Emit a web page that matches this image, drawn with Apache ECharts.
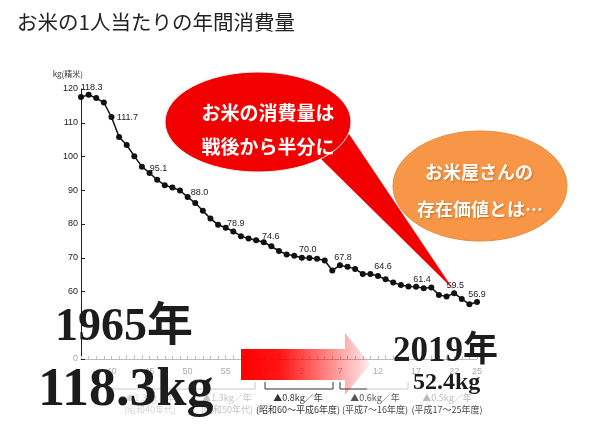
<!DOCTYPE html>
<html><head><meta charset="utf-8">
<script src="https://cdn.jsdelivr.net/npm/echarts@6.0.0/dist/echarts.min.js"></script>
<style>html,body{margin:0;padding:0;background:#fff}#c{width:600px;height:429px}</style>
</head><body><div id="c"></div>
<script>
// ---- data ----
const years = [1961,1962,1963,1964,1965,1966,1967,1968,1969,1970,1971,1972,1973,1974,1975,1976,1977,1978,1979,1980,1981,1982,1983,1984,1985,1986,1987,1988,1989,1990,1991,1992,1993,1994,1995,1996,1997,1998,1999,2000,2001,2002,2003,2004,2005,2006,2007,2008,2009,2010,2011,2012,2013];
const consumption = [117.6,118.3,117.3,116.0,111.7,105.8,103.4,100.1,97.0,95.1,93.1,91.5,90.8,89.9,88.0,86.2,83.9,81.6,79.8,78.9,77.8,76.4,75.7,75.2,74.6,73.4,72.0,71.0,70.6,70.0,69.9,69.7,69.2,66.2,67.8,67.3,66.7,65.2,65.2,64.6,63.6,62.7,61.9,61.5,61.4,61.0,61.2,59.0,58.5,59.5,57.8,56.2,56.9];
const xTickYears = [1965,1970,1975,1980,1985,1990,1995,2000,2005,2010,2013];
const xTickLabels = ['40','45','50','55','60','2','7','12','17','22','25'];
const labeledYears = [1962,1965,1970,1975,1980,1985,1990,1995,2000,2005,2010,2013];
const yTickValues = [40,60,70,80,90,100,110,120];
const yTickLabels = ['0','60','70','80','90','100','110','120'];
const titleText = 'お米の1人当たりの年間消費量';
const bubble1 = ['お米の消費量は','戦後から半分に'];
const bubble2 = ['お米屋さんの','存在価値とは…'];
const bigFrom = ['1965年','118.3kg'];
const bigTo = ['2019年','52.4kg'];
const rateTexts = [
  ['▲2.3kg／年','(昭和40年代)'],
  ['▲1.3kg／年','(昭和50年代)'],
  ['▲0.8kg／年','(昭和60～平成6年度)'],
  ['▲0.6kg／年','(平成7～16年度)'],
  ['▲0.5kg／年','(平成17～25年度)']
];

// ---- build ----
const chart = echarts.init(document.getElementById('c'), null, {renderer:'canvas'});
const SANS = "'Liberation Sans','Noto Sans CJK JP',sans-serif";
const CJK = "'Noto Sans CJK JP',sans-serif";
const SERIF = "'Liberation Serif','Noto Sans CJK JP',serif";
const SYM = 6;

// label centre offsets from the point (px)
const labelShift = {1962:[3,-7],1965:[16,1],1970:[9,-5],1975:[12,-4],1980:[10,-4.5],1985:[7,-6],1990:[6,-8.5],1995:[3,-8],2000:[5,-9],2005:[6,-7.5],2010:[1,-7.7],2013:[0,-7.5]};

const seriesData = consumption.map((v,i)=>{
  const y = years[i];
  if (labeledYears.indexOf(y) >= 0) {
    const s = labelShift[y];
    return {value:v, label:{show:true, position:[s[0]+SYM/2, s[1]+SYM/2], align:'center', verticalAlign:'middle',
      formatter:(p)=>p.value.toFixed(1), fontSize:9, color:'#222', fontFamily:SANS}};
  }
  return v;
});

const rateCenters = [150, 227, 298, 375, 447];
const rateColors = [['#d6d6d6','#d6d6d6'],['#c4c4c4','#c4c4c4'],['#333','#333'],['#555','#444'],['#bbb','#444']];
const rateGraphics = [];
rateTexts.forEach((t,i)=>{
  rateGraphics.push({type:'text', z:90, style:{text:t[0], x:rateCenters[i], y:398, textAlign:'center', textVerticalAlign:'middle', fontSize:9, fontFamily:CJK, fill:rateColors[i][0]}});
  rateGraphics.push({type:'text', z:90, style:{text:t[1], x:rateCenters[i], y:410, textAlign:'center', textVerticalAlign:'middle', fontSize:9, fontFamily:CJK, fill:rateColors[i][1]}});
});

const option = {
  animation:false,
  backgroundColor:'#fff',
  grid:{left:81, right:123, top:89, bottom:70},
  xAxis:{
    type:'category', data:years.map(String), boundaryGap:false,
    axisLine:{lineStyle:{color:'#bbb', width:1}},
    axisTick:{show:true, inside:true, length:3, interval:0, lineStyle:{color:'#bbb'}},
    axisLabel:{
      interval:(idx, val)=> xTickYears.indexOf(+val) >= 0,
      formatter:(val)=> { const k = xTickYears.indexOf(+val); return k>=0 ? xTickLabels[k] : ''; },
      fontSize:9, color:'#aaa', fontFamily:SANS, margin:8
    },
    splitLine:{show:false}
  },
  yAxis:{
    type:'value', min:40, max:120, interval:10,
    name:'kg(精米)', nameLocation:'end', nameGap:11,
    nameTextStyle:{fontSize:8, color:'#333', fontFamily:CJK, align:'right', padding:[0,-2,0,0]},
    axisLine:{show:true, lineStyle:{color:'#222', width:1}},
    axisTick:{show:true, inside:true, length:4, lineStyle:{color:'#222'}},
    axisLabel:{
      formatter:(v)=>{ const k = yTickValues.indexOf(v); return k>=0 ? yTickLabels[k] : ''; },
      color:(v)=> (+v===40 ? '#aaa' : '#222'),
      fontSize:9, fontFamily:SANS, margin:3
    },
    splitLine:{show:false}
  },
  series:[{
    type:'line', data:seriesData, z:5,
    symbol:'circle', symbolSize:SYM, showAllSymbol:true,
    lineStyle:{color:'#111', width:1.5},
    itemStyle:{color:'#111'},
    labelLayout:{hideOverlap:false},
    label:{show:false}
  }],
  graphic:[
    {type:'text', z:120, style:{text:titleText, x:17, y:22, textAlign:'left', textVerticalAlign:'middle', fontSize:20.5, fontFamily:CJK, fill:'#222'}},
    {type:'polygon', z:100, shape:{points:[[320,158],[330,150],[349,134],[453,289]]}, style:{fill:'#f20000'}},
    {type:'ellipse', z:101, shape:{cx:258, cy:122, rx:93, ry:50}, style:{fill:'#f20000', stroke:'#e6f4f4', lineWidth:1}},
    {type:'text', z:110, style:{text:bubble1[0], x:268, y:113, textAlign:'center', textVerticalAlign:'middle', fontSize:19, fontWeight:'bold', fontFamily:CJK, fill:'#fff'}},
    {type:'text', z:110, style:{text:bubble1[1], x:268, y:147, textAlign:'center', textVerticalAlign:'middle', fontSize:19, fontWeight:'bold', fontFamily:CJK, fill:'#fff'}},
    {type:'ellipse', z:100, shape:{cx:480, cy:186, rx:87, ry:55}, style:{fill:'#f79646', stroke:'#ec8a3a', lineWidth:1}},
    {type:'text', z:110, style:{text:bubble2[0], x:479, y:172, textAlign:'center', textVerticalAlign:'middle', fontSize:18, fontWeight:'bold', fontFamily:CJK, fill:'#fff', textShadowColor:'rgba(150,70,0,0.5)', textShadowBlur:2, textShadowOffsetX:1, textShadowOffsetY:1}},
    {type:'text', z:110, style:{text:bubble2[1], x:480, y:209, textAlign:'center', textVerticalAlign:'middle', fontSize:18, fontWeight:'bold', fontFamily:CJK, fill:'#fff', textShadowColor:'rgba(150,70,0,0.5)', textShadowBlur:2, textShadowOffsetX:1, textShadowOffsetY:1}},
    {type:'polyline', z:90, shape:{points:[[112,389],[255,389],[255,382]]}, style:{stroke:'#c8c8c8', lineWidth:1, fill:null}},
    {type:'polyline', z:90, shape:{points:[[265,382],[265,389],[333,389],[333,382]]}, style:{stroke:'#333', lineWidth:1, fill:null}},
    {type:'polyline', z:90, shape:{points:[[340,382],[340,389],[367,389]]}, style:{stroke:'#333', lineWidth:1, fill:null}},
    {type:'polyline', z:90, shape:{points:[[367,389],[408,389],[408,382]]}, style:{stroke:'#c8c8c8', lineWidth:1, fill:null}},
    ...rateGraphics,
    {type:'polygon', z:105, shape:{points:[[241,349],[345,349],[345,333],[370,364],[345,395],[345,380],[241,380]]},
      style:{fill:new echarts.graphic.LinearGradient(0,0,1,0,[
        {offset:0, color:'rgba(255,0,0,1)'},
        {offset:0.3, color:'rgba(255,0,0,0.92)'},
        {offset:0.8, color:'rgba(255,0,0,0.32)'},
        {offset:1, color:'rgba(255,0,0,0.08)'}])}},
    {type:'text', z:115, style:{text:bigFrom[0], x:55, y:328, textAlign:'left', textVerticalAlign:'middle', fontSize:46, fontWeight:'bold', fontFamily:SERIF, fill:'#1c1c1c'}},
    {type:'text', z:115, style:{text:bigFrom[1], x:38, y:391, textAlign:'left', textVerticalAlign:'middle', fontSize:54, fontWeight:'bold', fontFamily:SERIF, fill:'#1c1c1c'}},
    {type:'text', z:115, style:{text:bigTo[0], x:393, y:352, textAlign:'left', textVerticalAlign:'middle', fontSize:35, fontWeight:'bold', fontFamily:SERIF, fill:'#1c1c1c'}},
    {type:'text', z:115, style:{text:bigTo[1], x:413, y:383, textAlign:'left', textVerticalAlign:'middle', fontSize:24, fontWeight:'bold', fontFamily:SERIF, fill:'#1c1c1c'}}
  ]
};
chart.setOption(option);
</script>
</body></html>
